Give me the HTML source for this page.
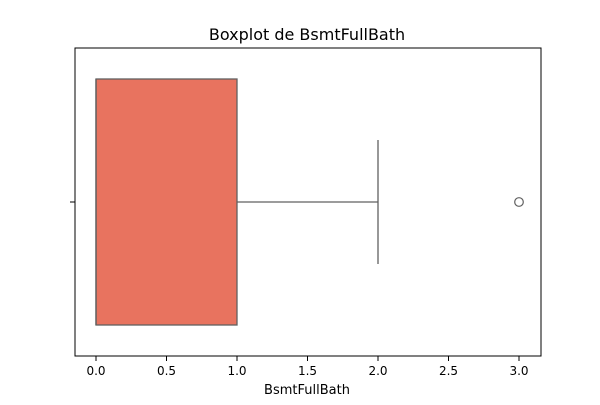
<!DOCTYPE html>
<html><head><meta charset="utf-8"><style>
body{margin:0;background:#fff}
text{font-family:"DejaVu Sans","Liberation Sans",sans-serif;fill:#000}
</style></head><body>
<svg id="chart" width="600" height="400" xmlns="http://www.w3.org/2000/svg">
<rect width="600" height="400" fill="#fff"/>
<text x="307" y="40" font-size="16" text-anchor="middle">Boxplot de BsmtFullBath</text>
<g id="plot"></g>
<rect x="75" y="48" width="466" height="308" fill="none" stroke="#000" stroke-width="1"/>
<text x="307" y="394" font-size="13" text-anchor="middle">BsmtFullBath</text>
</svg>
<script>
const tickValues=[0,0.5,1,1.5,2,2.5,3];
const tickLabels=["0.0","0.5","1.0","1.5","2.0","2.5","3.0"];
const q1=[0], median=[0], q3=[1], whiskerLow=[0], whiskerHigh=[2];
const outliers=[3];
const ns="http://www.w3.org/2000/svg";
const x=v=>96+v*141;
const g=document.getElementById('plot');
function mk(tag,a){const e=document.createElementNS(ns,tag);for(const k in a)e.setAttribute(k,a[k]);g.appendChild(e);return e;}
const cy=202, bt=79, bb=325, wt=140, wb=264;
let e=mk('rect',{x:x(q1[0]),y:bt,width:x(q3[0])-x(q1[0]),height:bb-bt,fill:'#E8735F',stroke:'#606060','stroke-width':1.3});


e=mk('line',{x1:x(median[0]),x2:x(median[0]),y1:bt,y2:bb,stroke:'#606060','stroke-width':1.3});


e=mk('line',{x1:x(q3[0]),x2:x(whiskerHigh[0]),y1:cy,y2:cy,stroke:'#606060','stroke-width':1.3});


e=mk('line',{x1:x(whiskerHigh[0]),x2:x(whiskerHigh[0]),y1:wt,y2:wb,stroke:'#606060','stroke-width':1.3});


e=mk('line',{x1:x(q1[0]),x2:x(whiskerLow[0]),y1:cy,y2:cy,stroke:'#606060','stroke-width':1.3});


outliers.forEach(v=>{
  const c=mk('circle',{cx:x(v),cy:cy,r:4.3,fill:'none',stroke:'#606060','stroke-width':1.2});
  
  
});
e=mk('line',{x1:70,x2:75,y1:cy,y2:cy,stroke:'#000'});


tickValues.forEach((v,i)=>{
  const t=mk('line',{x1:x(v),x2:x(v),y1:356,y2:361,stroke:'#000'});
  
  
  const l=mk('text',{x:x(v),y:375,'font-size':12,'text-anchor':'middle'});
  l.textContent=tickLabels[i];
  
  
});
</script>
</body></html>
